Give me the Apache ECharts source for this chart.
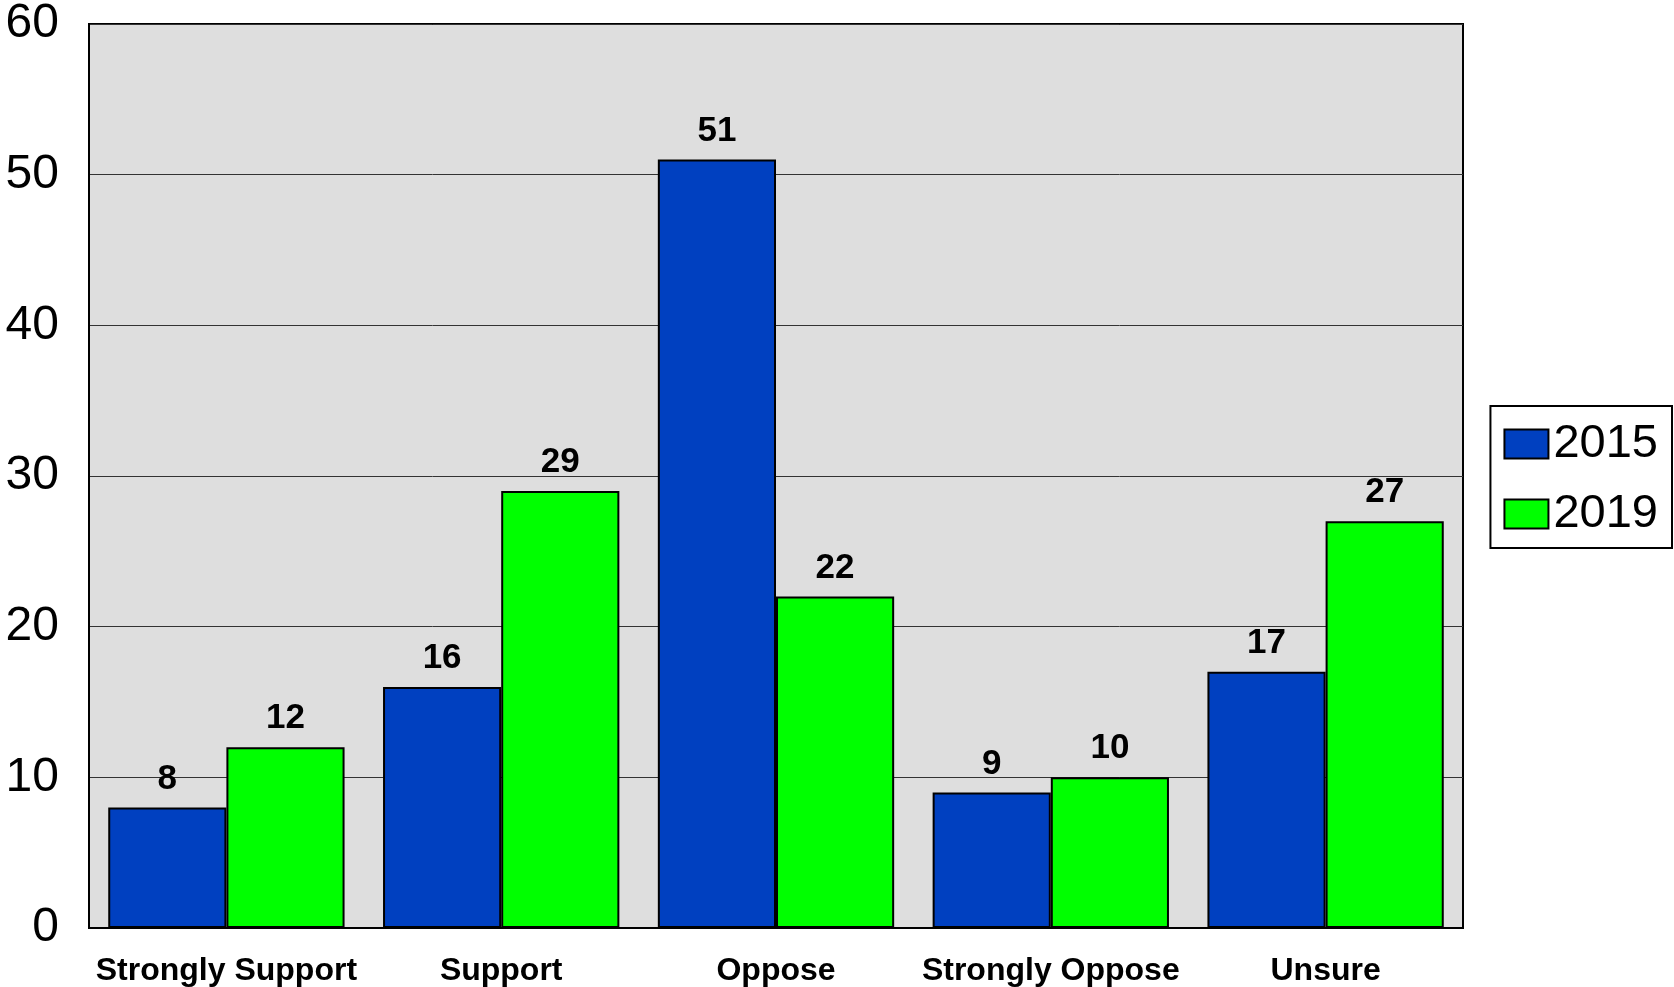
<!DOCTYPE html>
<html>
<head>
<meta charset="UTF-8">
<title>Support survey</title>
<script src="https://cdn.jsdelivr.net/npm/echarts@6/dist/echarts.min.js"></script>
<style>
  html, body { margin: 0; padding: 0; background: #fff; }
  #chart { width: 1674px; height: 987px; }
</style>
</head>
<body>
<div id="chart"></div>
<script type="text/javascript">
var categories = ['Strongly Support', 'Support', 'Oppose', 'Strongly Oppose', 'Unsure'];
var years = ['2015', '2019'];
var values2015 = [8, 16, 51, 9, 17];
var values2019 = [12, 29, 22, 10, 27];
var yTicks = { min: 0, max: 60, interval: 10 };

var font = 'Liberation Sans, Arial, sans-serif';
var chart = echarts.init(document.getElementById('chart'));

function barSeries(name, data, color) {
  return {
    name: name,
    type: 'bar',
    data: data,
    barGap: '0%',
    barCategoryGap: '14%',
    itemStyle: { color: color, borderColor: '#000', borderWidth: 2 },
    label: {
      show: true,
      position: 'top',
      distance: 11,
      color: '#000',
      fontFamily: font,
      fontWeight: 'bold',
      fontSize: 35
    }
  };
}

var option = {
  animation: false,
  backgroundColor: '#fff',
  grid: {
    left: 89, right: 211, top: 22, bottom: 57,
    show: true,
    backgroundColor: '#dedede',
    borderColor: '#000',
    borderWidth: 2
  },
  legend: {
    orient: 'vertical',
    right: 2,
    top: 406,
    padding: [13, 14, 9, 13],
    borderColor: '#000',
    borderWidth: 2,
    itemWidth: 44,
    itemHeight: 29,
    itemGap: 20,
    icon: 'rect',
    textStyle: { fontFamily: font, fontSize: 47, color: '#000', lineHeight: 46, padding: [4, 0, 0, 0] },
    data: years
  },
  xAxis: {
    type: 'category',
    data: categories,
    axisLine: { lineStyle: { color: '#000', width: 2 } },
    axisTick: { show: false },
    axisLabel: {
      margin: 27,
      color: '#000',
      fontFamily: font,
      fontWeight: 'bold',
      fontSize: 32,
      interval: 0
    }
  },
  yAxis: {
    type: 'value',
    min: yTicks.min,
    max: yTicks.max,
    interval: yTicks.interval,
    axisLine: { show: true, lineStyle: { color: '#000', width: 2 } },
    axisTick: { show: false },
    axisLabel: { margin: 30, color: '#000', fontFamily: font, fontSize: 48 },
    splitLine: { lineStyle: { color: '#333', width: 1 } }
  },
  series: [
    barSeries(years[0], values2015, '#0040c0'),
    barSeries(years[1], values2019, '#00ff00')
  ]
};

chart.setOption(option);
</script>
</body>
</html>
